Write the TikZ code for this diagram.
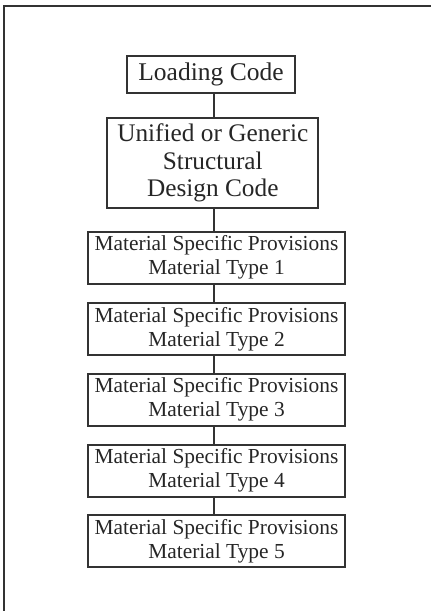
\documentclass[tikz,border=0pt]{standalone}
\usepackage{fontspec}
\setmainfont{Liberation Serif}
\usetikzlibrary{positioning}

\begin{document}
\begin{tikzpicture}[x=1pt, y=-1pt, line width=2pt, draw=black!80,
    codebox/.style={draw=black!80, rectangle, inner sep=0pt, align=center, text=black!85},
    matbox/.style={codebox, minimum width=257pt, minimum height=52pt, font=\fontsize{21.4}{24}\selectfont}]
      \useasboundingbox (0,0) rectangle (431,611);
      % outer frame, cut at right and bottom
      \draw[line width=1.6pt] (3.7,620) -- (3.7,5.8) -- (440,5.8);

      \node[codebox, minimum width=168pt, minimum height=37pt, font=\fontsize{25.5}{27}\selectfont] (load) at (211,74) {Loading Code};
      \node[codebox, minimum width=211pt, minimum height=90pt, font=\fontsize{25.3}{27.8}\selectfont] (unif) at (212.8,163) {Unified or Generic\\Structural\\Design Code};
      \node[matbox] (m1) at (216.5,257.5) {Material Specific Provisions\\Material Type 1};
      \node[matbox] (m2) at (216.5,329) {Material Specific Provisions\\Material Type 2};
      \node[matbox] (m3) at (216.5,399.5) {Material Specific Provisions\\Material Type 3};
      \node[matbox] (m4) at (216.5,470.5) {Material Specific Provisions\\Material Type 4};
      \node[matbox] (m5) at (216.5,541) {Material Specific Provisions\\Material Type 5};

      \coordinate (spine) at (214,0);
      \draw (load.south -| spine) -- (unif.north -| spine);
      \draw (unif.south -| spine) -- (m1.north -| spine);
      \draw (m1.south -| spine) -- (m2.north -| spine);
      \draw (m2.south -| spine) -- (m3.north -| spine);
      \draw (m3.south -| spine) -- (m4.north -| spine);
      \draw (m4.south -| spine) -- (m5.north -| spine);
\end{tikzpicture}
\end{document}
